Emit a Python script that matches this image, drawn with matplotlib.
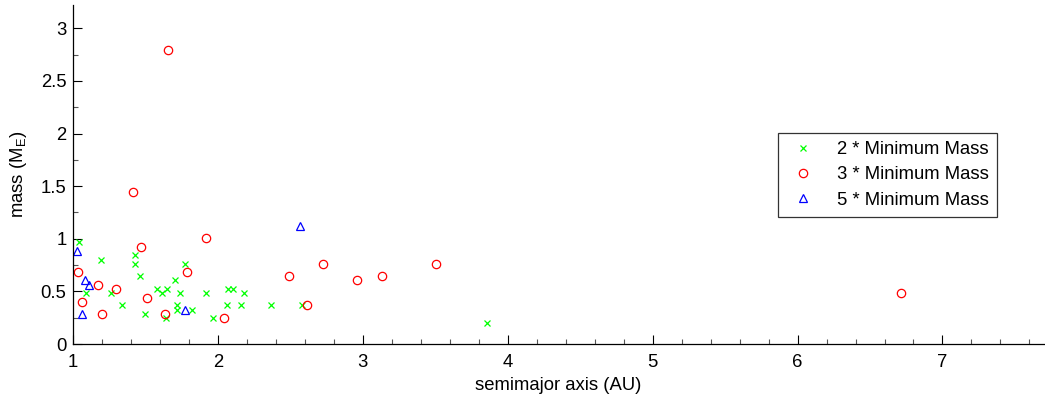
import numpy as np
import matplotlib
matplotlib.use('Agg')
import matplotlib.pyplot as plt
from matplotlib.ticker import MultipleLocator, FuncFormatter

plt.rcParams['font.family'] = ['Liberation Sans', 'DejaVu Sans']
plt.rcParams['mathtext.fontset'] = 'custom'
plt.rcParams['mathtext.rm'] = 'Liberation Sans'
plt.rcParams['mathtext.it'] = 'Liberation Sans:italic'

# 2 * minimum mass disk
a2 = [1.046, 1.193, 1.09, 1.264, 1.342, 1.43, 1.43, 1.464, 1.499, 1.583,
      1.614, 1.652, 1.643, 1.706, 1.721, 1.721, 1.742, 1.777, 1.821, 1.919,
      1.968, 2.069, 2.103, 2.062, 2.159, 2.183, 2.368, 2.579, 3.859]
m2 = [0.969, 0.798, 0.487, 0.487, 0.368, 0.845, 0.763, 0.643, 0.285, 0.522,
      0.487, 0.522, 0.247, 0.608, 0.368, 0.323, 0.487, 0.763, 0.323, 0.487,
      0.247, 0.522, 0.522, 0.368, 0.368, 0.487, 0.368, 0.368, 0.2]

# 3 * minimum mass disk
a3 = [1.037, 1.062, 1.177, 1.2, 1.299, 1.418, 1.469, 1.514, 1.637, 1.655,
      1.79, 1.921, 2.043, 2.49, 2.618, 2.724, 2.959, 3.131, 3.506, 6.717]
m3 = [0.681, 0.402, 0.56, 0.285, 0.522, 1.443, 0.918, 0.44, 0.285, 2.79,
      0.681, 1.004, 0.25, 0.643, 0.368, 0.763, 0.608, 0.643, 0.763, 0.487]

# 5 * minimum mass disk
a5 = [1.032, 1.087, 1.114, 1.064, 1.777, 2.568]
m5 = [0.886, 0.608, 0.56, 0.285, 0.325, 1.123]

fs = 13.3

fig = plt.figure(figsize=(10.45, 3.95), dpi=100)
ax = fig.add_axes([0.0696, 0.129, 0.9294, 0.858])

ax.plot(a2, m2, 'x', color='#00ff00', markersize=4.5, markeredgewidth=0.9,
        label='2 * Minimum Mass')
ax.plot(a3, m3, 'o', color='#ff0000', markerfacecolor='none', markersize=6,
        markeredgewidth=0.9, label='3 * Minimum Mass')
ax.plot(a5, m5, '^', color='#0000ff', markerfacecolor='none', markersize=5.5,
        markeredgewidth=0.9, label='5 * Minimum Mass')

ax.set_xlim(1, 7.7)
ax.set_ylim(0, 3.22)
ax.xaxis.set_major_locator(MultipleLocator(1))
ax.xaxis.set_minor_locator(MultipleLocator(0.2))
ax.yaxis.set_major_locator(MultipleLocator(0.5))
ax.yaxis.set_minor_locator(MultipleLocator(0.25))
fmt = FuncFormatter(lambda v, p: '%g' % v)
ax.xaxis.set_major_formatter(fmt)
ax.yaxis.set_major_formatter(fmt)
ax.tick_params(which='both', direction='in', width=0.8, labelsize=fs)
ax.tick_params(which='major', length=6.5)
ax.tick_params(which='minor', length=3.5, color='#555555')
ax.tick_params(axis='x', which='major', pad=7.5)
ax.tick_params(axis='y', which='major', pad=4.5)
ax.spines['top'].set_visible(False)
ax.spines['right'].set_visible(False)
ax.spines['left'].set_linewidth(0.9)
ax.spines['bottom'].set_linewidth(0.9)

ax.set_xlabel('semimajor axis (AU)', fontsize=fs, labelpad=4)
ax.set_ylabel(r'mass (M$_\mathrm{E}$)', fontsize=fs, labelpad=8)

leg = ax.legend(loc='center', bbox_to_anchor=(0.839, 0.499), fontsize=fs,
                frameon=True, fancybox=False, edgecolor='black',
                handlelength=1.8, handletextpad=0.9, labelspacing=0.45,
                borderpad=0.45)
leg.get_frame().set_linewidth(0.9)

fig.savefig('out.png', dpi=100)
